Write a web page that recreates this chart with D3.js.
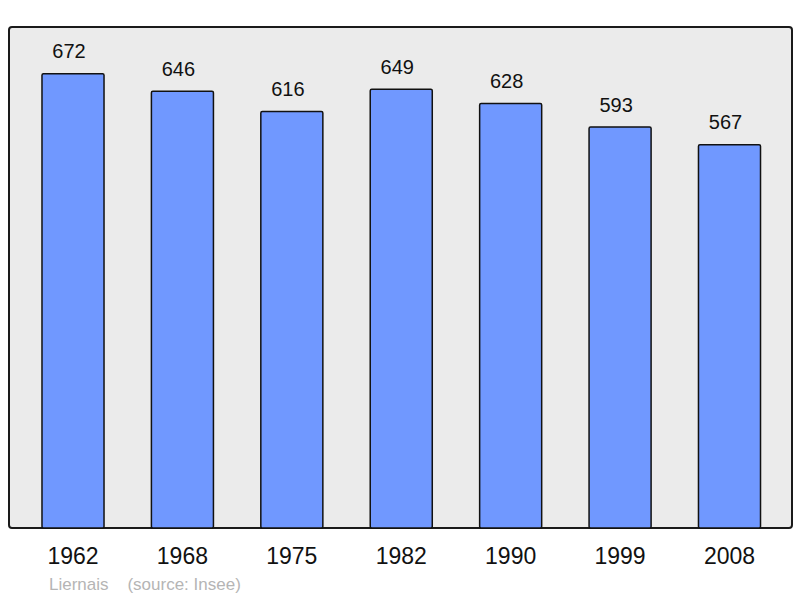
<!DOCTYPE html>
<html><head><meta charset="utf-8">
<script src="https://d3js.org/d3.v7.min.js"></script>
<style>body{margin:0;background:#fff}svg{display:block}</style>
</head><body>
<script>
const years = ["1962","1968","1975","1982","1990","1999","2008"];
const population = [672,646,616,649,628,593,567];
const caption = ["Liernais", "(source: Insee)"];

const W = 800, H = 598;
const frame = {x0: 9, y0: 27, x1: 792, y1: 528};
const svg = d3.select("body").append("svg").attr("width", W).attr("height", H);

svg.append("rect").attr("x", frame.x0).attr("y", frame.y0)
  .attr("width", frame.x1 - frame.x0).attr("height", frame.y1 - frame.y0)
  .attr("rx", 3).attr("fill", "#ebebeb").attr("stroke", "#1a1a1a").attr("stroke-width", 2);

const x = d3.scaleBand().domain(years).range([18.3, 784.2]).padding(0);
const y = d3.scaleLinear().domain([0, 741]).range([frame.y1, frame.y0]);
const bw = x.bandwidth() * 0.567;

const data = years.map((yr, i) => ({yr, v: population[i]}));

svg.selectAll("rect.bar").data(data).enter().append("rect").attr("class", "bar")
  .attr("x", d => x(d.yr) + (x.bandwidth() - bw) / 2)
  .attr("y", d => y(d.v))
  .attr("width", bw)
  .attr("height", d => y(0) - y(d.v))
  .attr("rx", 1.5)
  .attr("fill", "#7098ff").attr("stroke", "#111").attr("stroke-width", 1.5);

svg.selectAll("text.val").data(data).enter().append("text").attr("class", "val")
  .attr("x", d => x(d.yr) + x.bandwidth() / 2 - 4)
  .attr("y", d => y(d.v) - 15.5)
  .attr("text-anchor", "middle")
  .attr("font-family", "Liberation Sans, Arial, sans-serif")
  .attr("font-size", 20).attr("fill", "#111")
  .text(d => d.v);

svg.selectAll("text.yr").data(years).enter().append("text").attr("class", "yr")
  .attr("x", d => x(d) + x.bandwidth() / 2)
  .attr("y", 564)
  .attr("text-anchor", "middle")
  .attr("font-family", "Liberation Sans, Arial, sans-serif")
  .attr("font-size", 23).attr("fill", "#111")
  .text(d => d);

svg.append("text").attr("x", 49).attr("y", 590)
  .attr("font-family", "Liberation Sans, Arial, sans-serif")
  .attr("font-size", 17).attr("fill", "#b5b5b5")
  .attr("xml:space", "preserve")
  .text(caption[0] + "    " + caption[1]);
</script>
</body></html>
